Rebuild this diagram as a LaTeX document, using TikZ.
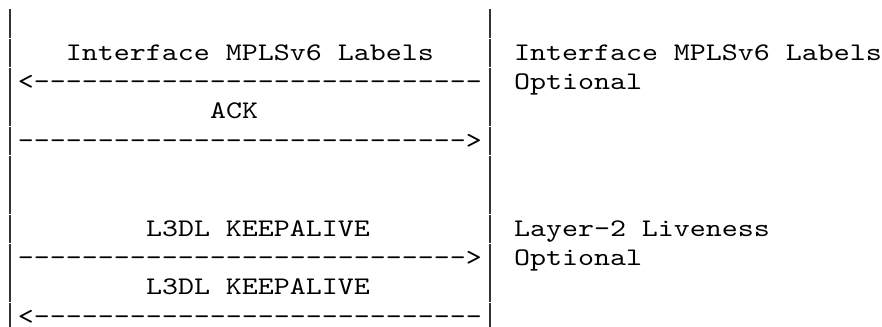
\documentclass[tikz,border=0pt]{standalone}
\usepackage{fontspec}
% typewriter face, widened to a 12pt character pitch at 19pt
\setmonofont{lmmono10-regular.otf}[FakeStretch=1.203]
\begin{document}
\begin{tikzpicture}[x=12pt,y=-22pt,
  cell/.style={inner sep=0pt,outer sep=0pt,anchor=base west,
    font=\ttfamily\fontsize{19pt}{22pt}\selectfont},
  bar/.style={line width=1pt,draw=black!80}]
% one unit = one character cell (12pt wide, 22pt line pitch)
\useasboundingbox (-0.125,-1.0455) rectangle (55,10.102);
% the two lifelines, one bar per text line
\foreach \r in {0,...,10}{
  \coordinate (lt\r) at (0.5,\r-0.73);
  \coordinate (lb\r) at (0.5,\r+0.255);
  \coordinate (rt\r) at (30.5,\r-0.73);
  \coordinate (rb\r) at (30.5,\r+0.255);
  \draw[bar] (lt\r) -- (lb\r);
  \draw[bar] (rt\r) -- (rb\r);
}
% messages between the lifelines
\node[cell] (msgA) at (4,1) {Interface MPLSv6 Labels};
\node[cell] (arrA) at (1,2) {<----------------------------};
\node[cell] (msgB) at (13,3) {ACK};
\node[cell] (arrB) at (1,4) {---------------------------->};
\node[cell] (msgC) at (9,7) {L3DL KEEPALIVE};
\node[cell] (arrC) at (1,8) {---------------------------->};
\node[cell] (msgD) at (9,9) {L3DL KEEPALIVE};
\node[cell] (arrD) at (1,10) {<----------------------------};
% notes to the right
\node[cell] (noteA) at (32,1) {Interface MPLSv6 Labels};
\node[cell] (noteB) at (32,2) {Optional};
\node[cell] (noteC) at (32,7) {Layer-2 Liveness};
\node[cell] (noteD) at (32,8) {Optional};
\end{tikzpicture}
\end{document}
